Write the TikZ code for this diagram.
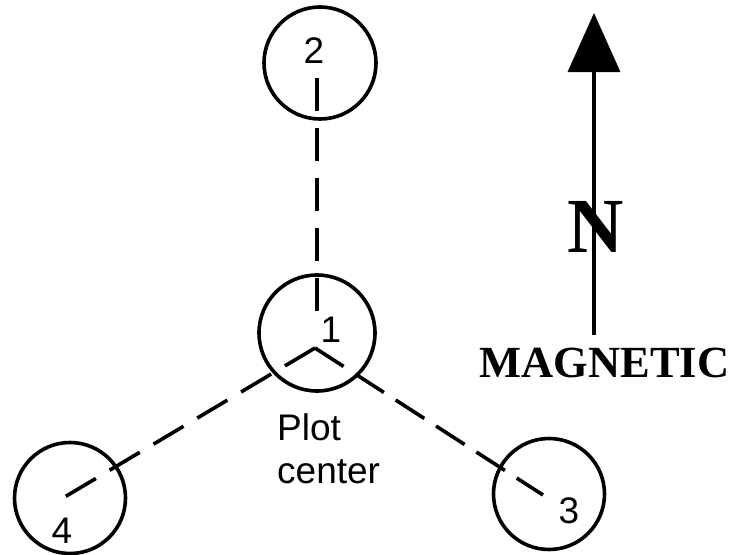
\documentclass[tikz,border=0pt]{standalone}
\usepackage{fontspec}
\setmainfont{Liberation Serif}
\setsansfont{Liberation Sans}
\usetikzlibrary{arrows.meta}
\begin{document}
\begin{tikzpicture}[x=1pt,y=-1pt,
  plotcircle/.style={draw, circle, line width=3.6pt, inner sep=0pt},
  lbl/.style={font=\sffamily\fontsize{37}{43}\selectfont, inner sep=0pt},
  dashline/.style={line width=3.6pt}]
\useasboundingbox (0,0) rectangle (733,554);
% circles
\node[plotcircle, minimum size=112pt] (c2) at (320,63) {};
\node[plotcircle, minimum size=116pt] (c1) at (317,333) {};
\node[plotcircle, minimum size=111pt] (c4) at (70,498) {};
\node[plotcircle, minimum size=111pt] (c3) at (549,494) {};
% labels
\node[lbl, anchor=base] (l2) at (314,63) {2};
\node[lbl, anchor=base] (l1) at (331,342) {1};
\node[lbl, anchor=base] (l4) at (62,543) {4};
\node[lbl, anchor=base] (l3) at (569,523) {3};
\node[lbl, anchor=north west, align=left] (pc) at (277,413) {Plot\\center};
% dashed lines
\coordinate (a2) at (317,78);
\coordinate (a1) at (317,313);
\coordinate (apex) at (315,348);
\coordinate (a4) at (63,498);
\coordinate (a3) at (543,495);
\draw[dashline, dash pattern=on 33pt off 17pt] (a2) -- (a1);
\draw[dashline, dash pattern=on 35pt off 16pt] (apex) -- (a4);
\draw[dashline, dash pattern=on 34pt off 14pt] (apex) -- (a3);
% north arrow
\coordinate (ntail) at (594,335);
\coordinate (ntip) at (594,13);
\draw[line width=3.6pt, -{Triangle[length=59pt,width=52pt]}] (ntail) -- (ntip);
\node[font=\bfseries\fontsize{78}{80}\selectfont, anchor=base, inner sep=0pt] (N) at (596,252) {N};
\node[font=\bfseries\fontsize{44.5}{50}\selectfont, anchor=base, inner sep=0pt] (mag) at (604.5,377) {MAGNETIC};
\end{tikzpicture}
\end{document}
